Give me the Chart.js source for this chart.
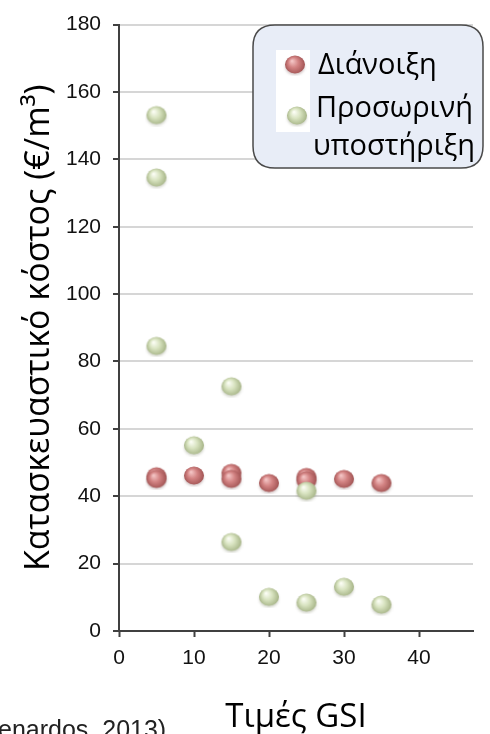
<!DOCTYPE html>
<html><head><meta charset="utf-8">
<script src="https://cdn.jsdelivr.net/npm/chart.js@4.4.1/dist/chart.umd.min.js"></script>
<style>html,body{margin:0;padding:0;background:#fff;overflow:hidden}</style>
</head><body><canvas id="c" width="490" height="734"></canvas>
<script>
// ---- data ----
const gsiExcavation  = [5, 5, 10, 15, 15, 20, 25, 25, 30, 35];
const costExcavation = [45.8, 45.0, 46.0, 46.8, 45.0, 43.8, 45.6, 44.6, 45.0, 43.8];
const gsiSupport     = [5, 5, 5, 10, 15, 15, 20, 25, 25, 30, 35];
const costSupport    = [153, 134.5, 84.5, 55, 72.5, 26.3, 10, 41.5, 8.3, 13, 7.7];
const xTickValues = [0, 10, 20, 30, 40];
const yTickValues = [0, 20, 40, 60, 80, 100, 120, 140, 160, 180];
const seriesLabels = ['Διάνοιξη', 'Προσωρινή υποστήριξη'];
const legendLines = [['Διάνοιξη'], ['Προσωρινή', 'υποστήριξη']];
const xTitle = 'Τιμές GSI';
const yTitle = 'Κατασκευαστικό κόστος (€/m³)';
const sourceNote = 'enardos, 2013)';

function sphere(hi, mid, edge, shadow) {
  const w = 24, h = 22;
  const c = document.createElement('canvas'); c.width = w; c.height = h;
  const g = c.getContext('2d');
  g.save(); g.filter = 'blur(1.5px)'; g.fillStyle = shadow;
  g.beginPath(); g.ellipse(12, 12.5, 9.5, 8, 0, 0, Math.PI * 2); g.fill(); g.restore();
  const grad = g.createRadialGradient(9, 7, 0.5, 12, 10.5, 10.5);
  grad.addColorStop(0, hi); grad.addColorStop(0.45, mid); grad.addColorStop(1, edge);
  g.fillStyle = grad; g.beginPath(); g.ellipse(12, 10.5, 10, 9, 0, 0, Math.PI * 2); g.fill();
  return c;
}
const redBall = sphere('#f3c4c4', '#d38383', '#9e5050', 'rgba(90,40,40,0.35)');
const greenBall = sphere('#fbfdf4', '#d8e3c0', '#a3b183', 'rgba(80,90,50,0.35)');

const toPts = (xs, ys) => xs.map((x, i) => ({ x: x, y: ys[i] }));

const extras = {
  id: 'extras',
  afterDraw(chart) {
    const ctx = chart.ctx;
    ctx.save();
    // legend box
    const bx = 253, by = 25, bw = 230, bh = 143, r = 22;
    ctx.beginPath();
    ctx.moveTo(bx + r, by); ctx.lineTo(bx + bw - r, by); ctx.quadraticCurveTo(bx + bw, by, bx + bw, by + r);
    ctx.lineTo(bx + bw, by + bh - r); ctx.quadraticCurveTo(bx + bw, by + bh, bx + bw - r, by + bh);
    ctx.lineTo(bx + r, by + bh); ctx.quadraticCurveTo(bx, by + bh, bx, by + bh - r);
    ctx.lineTo(bx, by + r); ctx.quadraticCurveTo(bx, by, bx + r, by); ctx.closePath();
    ctx.fillStyle = '#e8edf7'; ctx.fill();
    ctx.lineWidth = 1.5; ctx.strokeStyle = '#4a4a4a'; ctx.stroke();
    ctx.fillStyle = '#ffffff'; ctx.fillRect(276, 50, 34, 82);
    const balls = [redBall, greenBall];
    const centers = [[295, 65], [297, 116]];
    balls.forEach((b, i) => ctx.drawImage(b, centers[i][0] - b.width / 2, centers[i][1] - b.height / 2));
    ctx.fillStyle = '#000';
    ctx.font = '29px "Open Sans"';
    ctx.textBaseline = 'alphabetic'; ctx.textAlign = 'left';
    ctx.fillText(legendLines[0][0], 318, 74);
    ctx.fillText(legendLines[1][0], 316, 117);
    ctx.fillText(legendLines[1][1], 313, 155);
    // source note
    ctx.font = '25px "Liberation Sans", Arial';
    ctx.fillStyle = '#222';
    ctx.fillText(sourceNote, -2, 738);
    ctx.restore();
  }
};

new Chart(document.getElementById('c'), {
  type: 'scatter',
  data: {
    datasets: [
      { label: seriesLabels[0], data: toPts(gsiExcavation, costExcavation), pointStyle: redBall, pointRadius: 10, order: 1 },
      { label: seriesLabels[1], data: toPts(gsiSupport, costSupport), pointStyle: greenBall, pointRadius: 10, order: 0 }
    ]
  },
  options: {
    responsive: false, animation: false, events: [],
    devicePixelRatio: 1,
    layout: { padding: { left: 0, right: 17, top: 24, bottom: 0 } },
    plugins: { legend: { display: false }, tooltip: { enabled: false } },
    scales: {
      x: {
        type: 'linear', min: 0, max: 47.2,
        afterFit(s) { s.height = 103; },
        afterBuildTicks(s) { s.ticks = xTickValues.map(v => ({ value: v })); },
        ticks: { font: { family: '"Liberation Sans", Arial', size: 21 }, color: '#111', padding: 9, maxRotation: 0 },
        grid: { drawOnChartArea: false, drawTicks: true, tickLength: 6, tickColor: '#404040', tickWidth: 2 },
        border: { color: '#404040', width: 2 },
        title: { display: true, text: xTitle, font: { family: '"Open Sans"', size: 33, lineHeight: 1.0 }, color: '#000', padding: { top: 0, bottom: 0 } }
      },
      y: {
        type: 'linear', min: 0, max: 180,
        afterFit(s) { s.width = 119; },
        afterBuildTicks(s) { s.ticks = yTickValues.map(v => ({ value: v })); },
        ticks: { font: { family: '"Liberation Sans", Arial', size: 21 }, color: '#111', padding: 12 },
        grid: { color: '#d6d6d6', lineWidth: 2, tickLength: 6, tickColor: '#404040', tickWidth: 2 },
        border: { color: '#404040', width: 2 },
        title: { display: true, text: yTitle, font: { family: '"Open Sans"', size: 34, lineHeight: 1.0 }, color: '#000', padding: { top: 22, bottom: 0 } }
      }
    }
  },
  plugins: [extras]
});
</script></body></html>
